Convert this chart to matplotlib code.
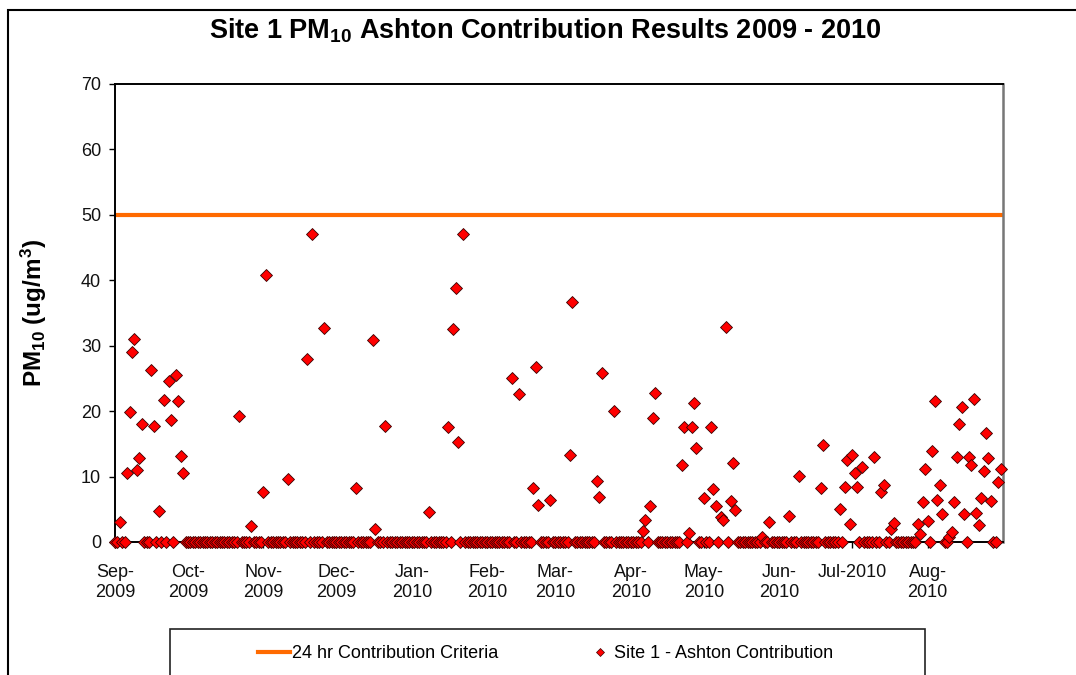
import matplotlib
matplotlib.use("Agg")
import matplotlib.pyplot as plt
from matplotlib.lines import Line2D
from matplotlib.patches import Rectangle
import pandas as pd

plt.rcParams['font.family'] = ['Liberation Sans', 'DejaVu Sans']
plt.rcParams['mathtext.fontset'] = 'custom'
plt.rcParams['mathtext.rm'] = 'Liberation Sans'
plt.rcParams['mathtext.it'] = 'Liberation Sans:italic'
plt.rcParams['mathtext.bf'] = 'Liberation Sans:bold'

# days with a measured (non-zero) Ashton contribution, ug/m3
pm_dates = [
    '2009-09-03', '2009-09-06', '2009-09-07', '2009-09-08', '2009-09-09', '2009-09-10',
    '2009-09-11', '2009-09-12', '2009-09-16', '2009-09-17', '2009-09-19', '2009-09-21',
    '2009-09-23', '2009-09-24', '2009-09-26', '2009-09-27', '2009-09-28', '2009-09-29',
    '2009-10-22', '2009-10-27',
    '2009-11-01', '2009-11-02', '2009-11-11', '2009-11-19', '2009-11-21', '2009-11-26',
    '2009-12-09', '2009-12-16', '2009-12-17', '2009-12-21',
    '2010-01-08', '2010-01-16', '2010-01-18', '2010-01-19', '2010-01-20', '2010-01-22',
    '2010-02-11', '2010-02-14', '2010-02-20', '2010-02-21', '2010-02-22', '2010-02-27',
    '2010-03-07', '2010-03-08', '2010-03-18', '2010-03-19', '2010-03-20', '2010-03-25',
    '2010-04-06', '2010-04-07', '2010-04-09', '2010-04-10', '2010-04-11', '2010-04-22',
    '2010-04-23', '2010-04-25', '2010-04-26', '2010-04-27', '2010-04-28',
    '2010-05-01', '2010-05-04', '2010-05-05', '2010-05-06', '2010-05-08', '2010-05-09',
    '2010-05-10', '2010-05-12', '2010-05-13', '2010-05-14', '2010-05-25', '2010-05-28',
    '2010-06-05', '2010-06-09', '2010-06-18', '2010-06-19', '2010-06-26', '2010-06-28',
    '2010-06-29', '2010-06-30',
    '2010-07-01', '2010-07-02', '2010-07-03', '2010-07-05', '2010-07-10', '2010-07-13',
    '2010-07-14', '2010-07-17', '2010-07-18', '2010-07-28', '2010-07-29', '2010-07-30',
    '2010-07-31',
    '2010-08-01', '2010-08-03', '2010-08-04', '2010-08-05', '2010-08-06', '2010-08-07',
    '2010-08-10', '2010-08-11', '2010-08-12', '2010-08-13', '2010-08-14', '2010-08-15',
    '2010-08-16', '2010-08-18', '2010-08-19', '2010-08-20', '2010-08-21', '2010-08-22',
    '2010-08-23', '2010-08-24', '2010-08-25', '2010-08-26', '2010-08-27', '2010-08-30',
    '2010-08-31',
]
pm_values = [
    3.0, 10.5, 19.9, 29.0, 31.0, 11.0,
    12.8, 18.0, 26.3, 17.8, 4.8, 21.7,
    24.6, 18.6, 25.6, 21.6, 13.1, 10.5,
    19.3, 2.5,
    7.6, 40.8, 9.7, 28.0, 47.1, 32.7,
    8.2, 30.8, 2.0, 17.7,
    4.6, 17.6, 32.6, 38.8, 15.3, 47.0,
    25.0, 22.6, 8.3, 26.8, 5.6, 6.4,
    13.3, 36.7, 9.3, 6.9, 25.9, 20.0,
    1.7, 3.3, 5.5, 19.0, 22.7, 11.8,
    17.6, 1.3, 17.6, 21.3, 14.3,
    6.7, 17.6, 8.1, 5.5, 3.8, 3.4,
    32.9, 6.2, 12.0, 4.9, 0.7, 3.0,
    4.0, 10.1, 8.2, 14.8, 5.1, 8.4,
    12.5, 2.8,
    13.3, 10.5, 8.4, 11.5, 13.0, 7.6,
    8.7, 2.0, 2.9, 2.8, 1.2, 6.1,
    11.2,
    3.2, 13.9, 21.6, 6.4, 8.7, 4.3,
    0.8, 1.6, 6.1, 13.0, 18.1, 20.6,
    4.3, 13.0, 11.7, 21.9, 4.5, 2.6,
    6.8, 10.8, 16.6, 12.8, 6.3, 9.1,
    11.1,
]

# runs of days where the contribution was zero (start, end inclusive)
zero_runs = [
    ('2009-09-01', '2009-09-02'), ('2009-09-04', '2009-09-05'), ('2009-09-13', '2009-09-15'),
    ('2009-09-18', '2009-09-18'), ('2009-09-20', '2009-09-20'), ('2009-09-22', '2009-09-22'),
    ('2009-09-25', '2009-09-25'), ('2009-09-30', '2009-10-21'), ('2009-10-23', '2009-10-26'),
    ('2009-10-28', '2009-10-31'), ('2009-11-03', '2009-11-10'), ('2009-11-12', '2009-11-18'),
    ('2009-11-20', '2009-11-20'), ('2009-11-22', '2009-11-25'), ('2009-11-27', '2009-12-08'),
    ('2009-12-10', '2009-12-15'), ('2009-12-18', '2009-12-20'), ('2009-12-22', '2010-01-07'),
    ('2010-01-09', '2010-01-15'), ('2010-01-17', '2010-01-17'), ('2010-01-21', '2010-01-21'),
    ('2010-01-23', '2010-02-10'), ('2010-02-12', '2010-02-13'), ('2010-02-15', '2010-02-19'),
    ('2010-02-23', '2010-02-26'), ('2010-02-28', '2010-03-06'), ('2010-03-09', '2010-03-17'),
    ('2010-03-21', '2010-03-24'), ('2010-03-26', '2010-04-05'), ('2010-04-08', '2010-04-08'),
    ('2010-04-12', '2010-04-21'), ('2010-04-24', '2010-04-24'), ('2010-04-29', '2010-04-30'),
    ('2010-05-02', '2010-05-03'), ('2010-05-07', '2010-05-07'), ('2010-05-11', '2010-05-11'),
    ('2010-05-15', '2010-05-24'), ('2010-05-26', '2010-05-27'), ('2010-05-29', '2010-06-04'),
    ('2010-06-06', '2010-06-08'), ('2010-06-10', '2010-06-17'), ('2010-06-20', '2010-06-25'),
    ('2010-06-27', '2010-06-27'), ('2010-07-04', '2010-07-04'), ('2010-07-06', '2010-07-09'),
    ('2010-07-11', '2010-07-12'), ('2010-07-15', '2010-07-16'), ('2010-07-19', '2010-07-27'),
    ('2010-08-02', '2010-08-02'), ('2010-08-08', '2010-08-09'), ('2010-08-17', '2010-08-17'),
    ('2010-08-28', '2010-08-29'),
]

criteria = 50
month_starts = ['2009-09-01', '2009-10-01', '2009-11-01', '2009-12-01', '2010-01-01', '2010-02-01',
                '2010-03-01', '2010-04-01', '2010-05-01', '2010-06-01', '2010-07-01', '2010-08-01']
month_labels = ['Sep-\n2009', 'Oct-\n2009', 'Nov-\n2009', 'Dec-\n2009', 'Jan-\n2010', 'Feb-\n2010',
                'Mar-\n2010', 'Apr-\n2010', 'May-\n2010', 'Jun-\n2010', 'Jul-2010', 'Aug-\n2010']
x_start, x_end = '2009-09-01', '2010-09-01'

# build the full series
zero_days = pd.DatetimeIndex([])
for a, b in zero_runs:
    zero_days = zero_days.append(pd.date_range(a, b))
series = pd.concat([pd.Series(pm_values, index=pd.to_datetime(pm_dates)),
                    pd.Series(0.0, index=zero_days)]).sort_index()

fig = plt.figure(figsize=(10.76, 6.75), dpi=100)
ax = fig.add_axes([115 / 1076, 133 / 675, 888 / 1076, 458 / 675])

ax.plot([pd.Timestamp(x_start), pd.Timestamp(x_end)], [criteria, criteria],
        color='#ff6a00', lw=3.0, solid_capstyle='butt', zorder=2)
ax.plot(series.index, series.values, ls='none', marker='D', ms=5.8,
        mfc='#ff0000', mec='#3a0000', mew=0.6, clip_on=False, zorder=5)

ax.set_xlim(pd.Timestamp(x_start), pd.Timestamp(x_end))
ax.set_ylim(0, 70)
ax.set_yticks(range(0, 71, 10))
ax.set_xticks(pd.to_datetime(month_starts))
ax.set_xticklabels(month_labels, linespacing=1.25)
ax.tick_params(axis='both', labelsize=13, colors='black', direction='out', length=4, width=1)
ax.tick_params(axis='x', pad=12)
ax.tick_params(axis='y', pad=6)
for lbl in ax.get_xticklabels() + ax.get_yticklabels():
    lbl.set_color('#111111')

for side in ['left', 'bottom', 'top']:
    ax.spines[side].set_color('black')
    ax.spines[side].set_linewidth(1.4)
ax.spines['right'].set_color('#777777')
ax.spines['right'].set_linewidth(1.8)

ax.set_ylabel('PM$_{\\mathbf{10}}$ (ug/m$^{\\mathbf{3}}$)', fontsize=17.5, fontweight='bold', labelpad=23)

fig.text(545 / 1076, 1 - 31 / 675, 'Site 1 PM$_{\\mathbf{10}}$ Ashton Contribution Results 2009 - 2010',
         ha='center', va='center', fontsize=19.5, fontweight='bold')

# outer chart border (top and left visible, rest cropped off)
fig.patches.append(Rectangle((8 / 1076, -0.2), 1.2, 1.2 - 10 / 675, transform=fig.transFigure,
                             fill=False, edgecolor='black', lw=1.5, clip_on=False))
# legend box runs off the bottom of the picture
fig.patches.append(Rectangle((170 / 1076, -0.1), 755 / 1076, 0.1 + 46 / 675, transform=fig.transFigure,
                             fill=False, edgecolor='#222222', lw=1.2, clip_on=False))

leg1 = fig.legend([Line2D([], [], color='#ff6a00', lw=3.0)], ['24 hr Contribution Criteria'],
                  loc='center left', bbox_to_anchor=(258 / 1076, 1 - 654 / 675), frameon=False,
                  fontsize=13, handlelength=1.75, handletextpad=0.15, borderpad=0, borderaxespad=0)
leg2 = fig.legend([Line2D([], [], ls='none', marker='D', ms=4.5, mfc='#ff0000', mec='#3a0000', mew=0.5)],
                  ['Site 1 - Ashton Contribution'],
                  loc='center left', bbox_to_anchor=(593 / 1076, 1 - 654 / 675), frameon=False,
                  fontsize=13, handlelength=0.8, handletextpad=0.35, borderpad=0, borderaxespad=0)

fig.savefig('out.png', dpi=100)
